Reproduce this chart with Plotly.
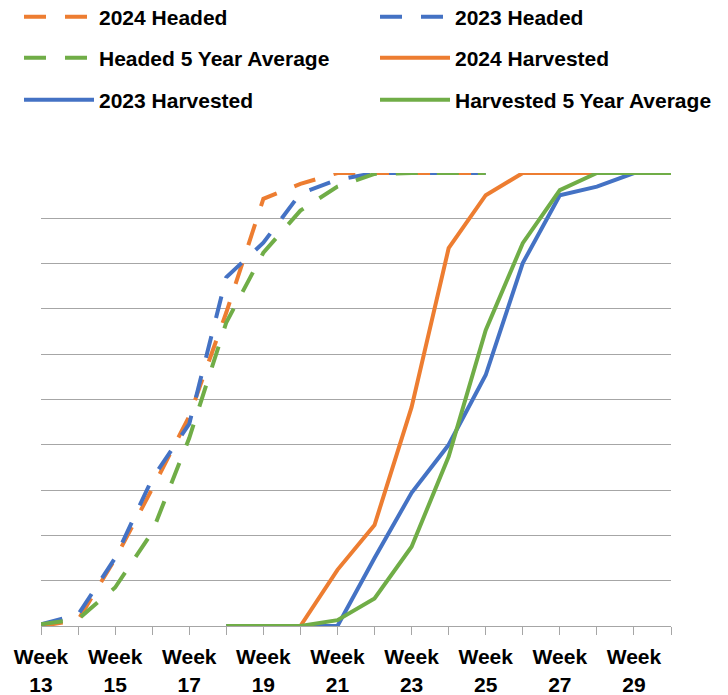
import plotly.graph_objects as go

weeks = list(range(13, 31))
tick_labels = [f"Week<br>{w}" if w % 2 == 1 else "" for w in weeks]

N = None
headed_2024 = [0, 1.3, 14.8, 30.3, 46.3, 69.2, 94.3, 97.6, 100, 100, 100, 100, 100, N, N, N, N, N]
headed_2023 = [0.4, 2.5, 15.0, 32.5, 44.6, 77.0, 84.6, 95.5, 98.5, 100, 100, 100, 100, N, N, N, N, N]
headed_avg = [0.4, 1.5, 8.5, 20.7, 41.5, 67.0, 82.4, 91.7, 97.0, 99.8, 100, 100, 100, N, N, N, N, N]
harvested_2024 = [N, N, N, N, N, 0, 0, 0, 12.4, 22.3, 48.3, 83.4, 95.1, 100, 100, 100, 100, 100]
harvested_2023 = [N, N, N, N, N, 0, 0, 0, 0, 15.0, 29.4, 40.0, 55.4, 80.1, 95.1, 97.0, 100, 100]
harvested_avg = [N, N, N, N, N, 0, 0, 0, 1.3, 6.1, 17.5, 37.4, 65.3, 84.5, 96.2, 100, 100, 100]

ORANGE = "#ED7D31"
BLUE = "#4472C4"
GREEN = "#70AD47"
DASH = "22px,19px"
FONT = "Liberation Sans, Arial, sans-serif"

# name, values, colour, dash, legend id
series = [
    ("2024 Headed", headed_2024, ORANGE, DASH, "legend"),
    ("2023 Headed", headed_2023, BLUE, DASH, "legend2"),
    ("Headed 5 Year Average", headed_avg, GREEN, DASH, "legend3"),
    ("2024 Harvested", harvested_2024, ORANGE, "solid", "legend4"),
    ("2023 Harvested", harvested_2023, BLUE, "solid", "legend5"),
    ("Harvested 5 Year Average", harvested_avg, GREEN, "solid", "legend6"),
]

fig = go.Figure()
for name, vals, color, dash, lg in series:
    fig.add_trace(go.Scatter(
        x=weeks, y=vals, name=name, mode="lines",
        line=dict(color=color, width=4, dash=dash),
        connectgaps=False, legend=lg,
    ))

W, H = 728, 695
leg_common = dict(
    orientation="h", xref="container", yref="container",
    xanchor="left", yanchor="middle", itemwidth=70,
    font=dict(family=FONT, size=21, color="#000000", weight="bold"),
    bgcolor="rgba(0,0,0,0)", borderwidth=0,
)
# legend grid: column left edges and row centres in pixels
col_x = [19, 375]
row_y = [17, 58, 100]
legend_layout = {}
for i, (name, vals, color, dash, lg) in enumerate(series):
    r, c = divmod(i, 2)
    legend_layout[lg] = dict(leg_common, x=col_x[c] / W, y=1 - row_y[r] / H)

fig.update_layout(
    width=W, height=H,
    margin=dict(l=41, r=57, t=173, b=69, autoexpand=False),
    paper_bgcolor="white", plot_bgcolor="white",
    showlegend=True,
    **legend_layout,
    xaxis=dict(
        range=[13, 30], tickmode="array", tickvals=weeks, ticktext=tick_labels,
        showgrid=False, zeroline=False, showline=True, linecolor="#A6A6A6", linewidth=1.3,
        ticks="outside", ticklen=8, tickcolor="#A6A6A6", tickwidth=1.3,
        ticklabelstandoff=4, automargin=False,
        tickfont=dict(family=FONT, size=21, color="#000000", weight="bold"),
        tickangle=0, fixedrange=True,
    ),
    yaxis=dict(
        range=[0, 100], tickmode="linear", tick0=0, dtick=10,
        showticklabels=False, showgrid=True, gridcolor="#A6A6A6", gridwidth=1.3,
        zeroline=False, showline=False, ticks="", fixedrange=True, automargin=False,
    ),
)

fig.write_html("out.html", config={"displayModeBar": False},
               post_script="document.body.style.margin='0';")
